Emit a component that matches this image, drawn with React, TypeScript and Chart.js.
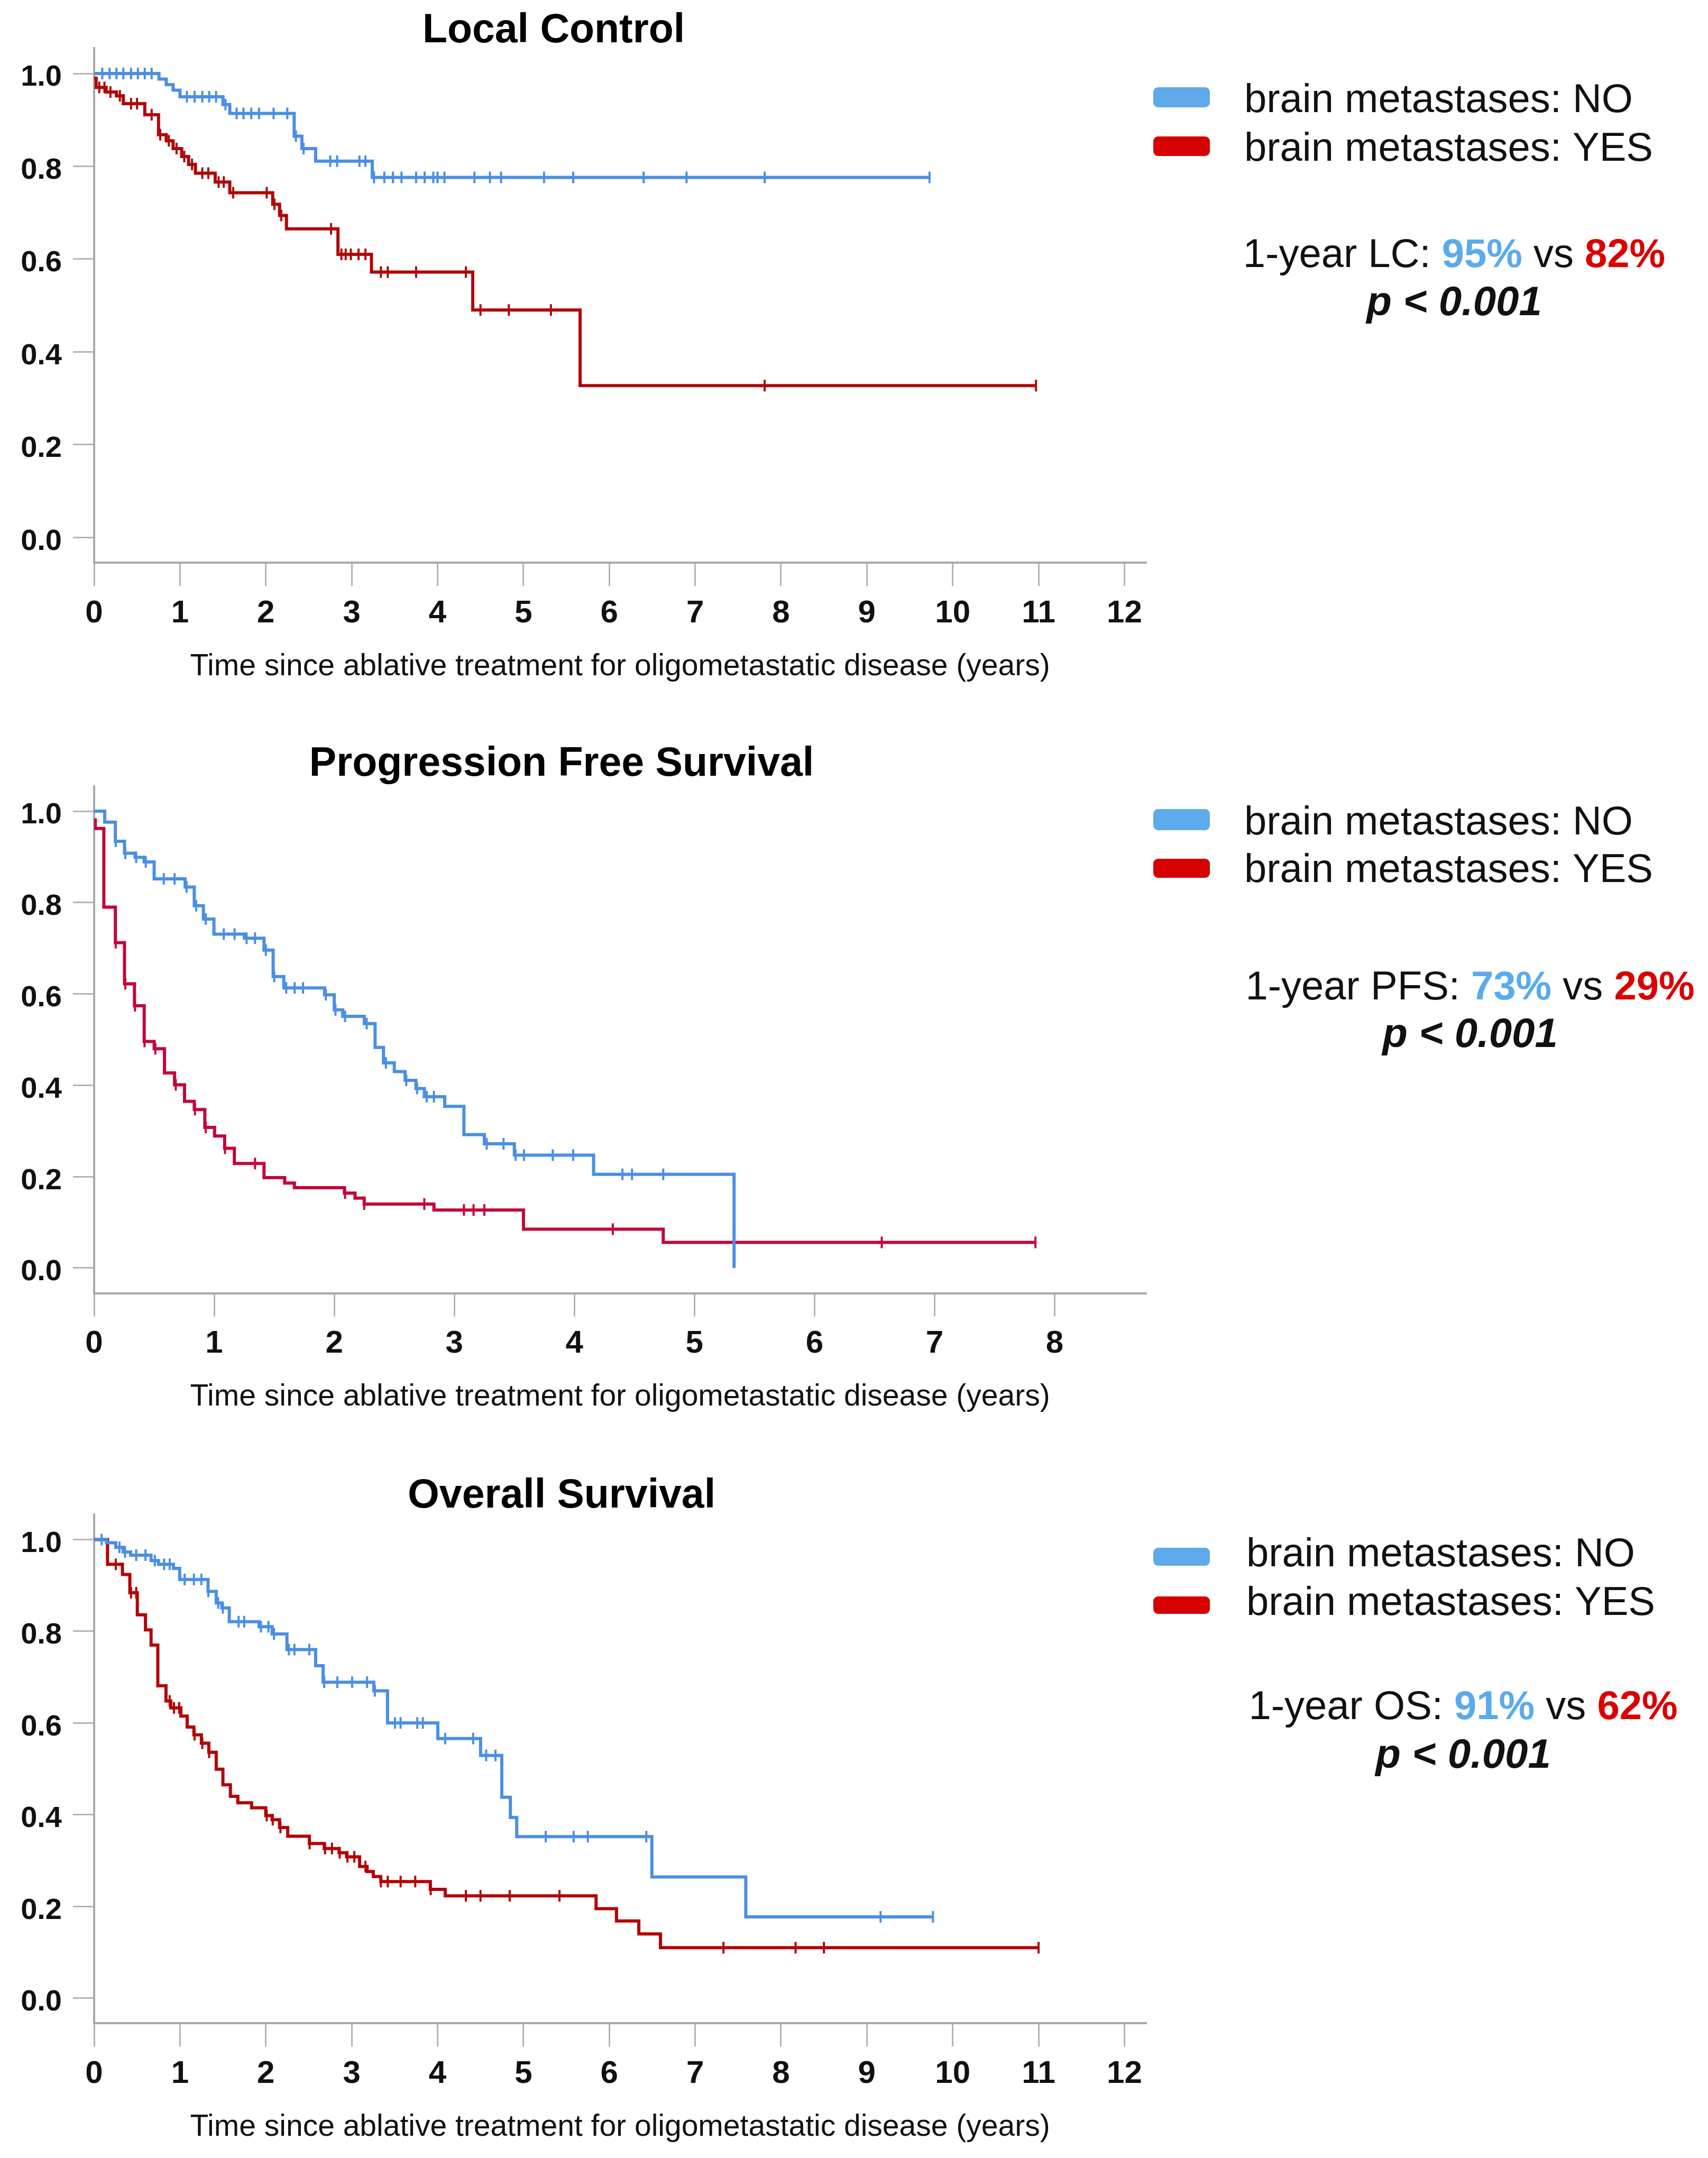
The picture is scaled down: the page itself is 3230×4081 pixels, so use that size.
import React, { useEffect, useRef } from 'react';
import { Chart, registerables } from 'chart.js';

Chart.register(...registerables);

// ---------------- DATA ----------------
const PANEL_TITLES = ['Local Control', 'Progression Free Survival', 'Overall Survival'];
const ENDPOINT_ABBR = ['LC', 'PFS', 'OS'];
const ONE_YEAR_NO = [95, 73, 91];
const ONE_YEAR_YES = [82, 29, 62];
const P_VALUE_TEXT = 'p < 0.001';
const SERIES_LABELS = ['brain metastases: NO', 'brain metastases: YES'];
const X_TITLE = 'Time since ablative treatment for oligometastatic disease (years)';

const Y_TICKS = [0, 0.2, 0.4, 0.6, 0.8, 1.0];
const X_TICKS_LC = [0, 1, 2, 3, 4, 5, 6, 7, 8, 9, 10, 11, 12];
const X_TICKS_PFS = [0, 1, 2, 3, 4, 5, 6, 7, 8];
const X_TICKS_OS = [0, 1, 2, 3, 4, 5, 6, 7, 8, 9, 10, 11, 12];

// Local control
const LC_NO_T = [0, 0.755, 0.84, 0.92, 1.0, 1.5, 1.58, 2.33, 2.42, 2.58, 3.24, 9.73];
const LC_NO_S = [1.0, 0.988, 0.976, 0.964, 0.95, 0.933, 0.914, 0.865, 0.838, 0.811, 0.776, 0.776];
const LC_NO_CENS = [0.095, 0.18, 0.26, 0.34, 0.43, 0.51, 0.59, 0.67, 1.08, 1.17, 1.26, 1.34, 1.42, 1.53, 1.66, 1.74, 1.83, 1.92, 2.09, 2.25, 2.35, 2.44, 2.75, 2.83, 3.09, 3.16, 3.26, 3.38, 3.48, 3.58, 3.75, 3.85, 3.95, 4.0, 4.08, 4.43, 4.61, 4.74, 5.24, 5.58, 6.4, 6.9, 7.81, 9.73];
const LC_YES_T = [0, 0.023, 0.14, 0.26, 0.34, 0.59, 0.75, 0.84, 0.92, 1.02, 1.1, 1.18, 1.41, 1.58, 2.08, 2.16, 2.24, 2.84, 3.23, 4.41, 5.66, 10.97];
const LC_YES_S = [0.99, 0.97, 0.96, 0.952, 0.935, 0.911, 0.868, 0.855, 0.838, 0.821, 0.804, 0.785, 0.766, 0.743, 0.718, 0.694, 0.665, 0.61, 0.572, 0.49, 0.327, 0.327];
const LC_YES_CENS = [0.06, 0.12, 0.19, 0.3, 0.43, 0.5, 0.67, 0.77, 0.87, 0.96, 1.05, 1.14, 1.26, 1.33, 1.45, 1.51, 1.62, 2.01, 2.1, 2.18, 2.76, 2.88, 2.93, 2.99, 3.08, 3.16, 3.34, 3.42, 3.75, 4.33, 4.5, 4.83, 5.32, 7.81, 10.97];

// Progression free survival
const PFS_NO_T = [0, 0.088, 0.177, 0.253, 0.341, 0.417, 0.5, 0.758, 0.834, 0.91, 0.998, 1.251, 1.415, 1.491, 1.58, 1.92, 2.0, 2.07, 2.25, 2.34, 2.41, 2.5, 2.59, 2.68, 2.75, 2.92, 3.08, 3.25, 3.5, 4.16, 5.33];
const PFS_NO_S = [1.0, 0.976, 0.934, 0.908, 0.899, 0.889, 0.852, 0.834, 0.793, 0.764, 0.731, 0.722, 0.696, 0.638, 0.613, 0.598, 0.565, 0.551, 0.535, 0.483, 0.449, 0.43, 0.411, 0.393, 0.375, 0.354, 0.292, 0.272, 0.247, 0.205, 0.0];
const PFS_NO_CENS = [0.18, 0.26, 0.35, 0.43, 0.58, 0.67, 0.77, 0.85, 0.93, 1.08, 1.17, 1.27, 1.34, 1.43, 1.5, 1.6, 1.67, 1.74, 1.93, 2.01, 2.09, 2.27, 2.43, 2.6, 2.69, 2.77, 2.83, 3.27, 3.41, 3.51, 3.58, 3.82, 3.99, 4.4, 4.48, 4.74];
const PFS_YES_T = [0, 0.01, 0.081, 0.177, 0.253, 0.336, 0.417, 0.5, 0.586, 0.67, 0.753, 0.834, 0.922, 1.003, 1.087, 1.168, 1.415, 1.587, 1.668, 2.085, 2.173, 2.249, 2.83, 3.576, 4.74, 7.84];
const PFS_YES_S = [0.981, 0.962, 0.79, 0.712, 0.622, 0.574, 0.496, 0.48, 0.427, 0.401, 0.365, 0.347, 0.308, 0.289, 0.262, 0.229, 0.198, 0.186, 0.176, 0.164, 0.153, 0.14, 0.127, 0.085, 0.056, 0.056];
const PFS_YES_CENS = [0.18, 0.26, 0.34, 0.42, 0.51, 0.68, 0.84, 0.93, 1.09, 1.34, 2.09, 2.25, 2.75, 3.08, 3.16, 3.25, 4.32, 6.56, 7.84];

// Overall survival
const OS_NO_T = [0, 0.143, 0.252, 0.338, 0.425, 0.663, 0.75, 0.924, 0.997, 1.327, 1.422, 1.487, 1.574, 1.921, 2.073, 2.246, 2.58, 2.667, 3.257, 3.417, 4.003, 4.501, 4.748, 4.848, 4.922, 6.496, 7.59, 9.77];
const OS_NO_S = [1.0, 0.993, 0.983, 0.973, 0.966, 0.954, 0.946, 0.937, 0.913, 0.887, 0.862, 0.851, 0.821, 0.81, 0.794, 0.76, 0.725, 0.689, 0.67, 0.6, 0.566, 0.529, 0.438, 0.394, 0.352, 0.264, 0.177, 0.177];
const OS_NO_CENS = [0.087, 0.295, 0.36, 0.49, 0.598, 0.707, 0.815, 0.88, 1.054, 1.162, 1.249, 1.33, 1.444, 1.5, 1.683, 1.748, 1.943, 2.03, 2.095, 2.268, 2.333, 2.506, 2.68, 2.832, 3.005, 3.179, 3.27, 3.504, 3.569, 3.764, 3.829, 4.089, 4.415, 4.566, 4.675, 5.26, 5.585, 5.75, 6.431, 9.16, 9.77];
const OS_YES_T = [0, 0.156, 0.33, 0.416, 0.503, 0.598, 0.663, 0.742, 0.837, 0.893, 1.01, 1.084, 1.162, 1.249, 1.336, 1.422, 1.5, 1.587, 1.674, 1.834, 1.999, 2.073, 2.16, 2.255, 2.507, 2.68, 2.853, 2.94, 3.092, 3.179, 3.252, 3.339, 3.916, 4.089, 5.846, 6.084, 6.344, 6.596, 11.0];
const OS_YES_S = [1.0, 0.946, 0.924, 0.884, 0.836, 0.803, 0.77, 0.681, 0.648, 0.633, 0.615, 0.591, 0.574, 0.556, 0.536, 0.499, 0.465, 0.44, 0.426, 0.415, 0.398, 0.389, 0.372, 0.353, 0.337, 0.326, 0.317, 0.308, 0.287, 0.276, 0.265, 0.254, 0.237, 0.223, 0.195, 0.168, 0.14, 0.11, 0.11];
const OS_YES_CENS = [0.252, 0.43, 0.49, 0.88, 0.93, 0.99, 1.17, 1.26, 1.34, 2.01, 2.08, 2.17, 2.51, 2.69, 2.77, 2.86, 2.95, 3.03, 3.16, 3.34, 3.42, 3.57, 3.74, 3.92, 4.33, 4.5, 4.84, 5.42, 7.33, 8.17, 8.5, 11.0];

// ---------------- STYLE / LAYOUT ----------------
const FONT = '"Liberation Sans", Arial, Helvetica, sans-serif';
const PAGE_W = 3230;
const PAGE_H = 4081;
const CHART_LEFT = 178;
const CHART_RIGHT = 2167;
const X_AXIS_H = 240;
const AXIS_COLOR = '#a9a9a9';
const TICK_COLOR = '#b4b4b4';
const LINE_BLUE = '#4a8fe4';
const LEGEND_BLUE = '#5eaaea';
const LEGEND_RED = '#d60000';
const TEXT_BLUE = '#5aabec';
const TEXT_RED = '#dc0000';

const PANELS = [
  {
    top: 0, height: 1360, chartTop: 90.8, chartBottom: 1064.3, xMax: 12.25, xTicks: X_TICKS_LC,
    noT: LC_NO_T, noS: LC_NO_S, noC: LC_NO_CENS, yesT: LC_YES_T, yesS: LC_YES_S, yesC: LC_YES_CENS,
    redLine: '#b00808',
    titleX: 1047, titleY: 80,
    sw: [[165, 38], [258, 37]], base: [212, 304], textX: 2353,
    annX: 2750, annY: [505, 596],
  },
  {
    top: 1360, height: 1380, chartTop: 126.5, chartBottom: 1085.5, xMax: 8.76, xTicks: X_TICKS_PFS,
    noT: PFS_NO_T, noS: PFS_NO_S, noC: PFS_NO_CENS, yesT: PFS_YES_T, yesS: PFS_YES_S, yesC: PFS_YES_CENS,
    redLine: '#c3063a',
    titleX: 1062, titleY: 107,
    sw: [[170, 40], [264, 36]], base: [218, 308], textX: 2353,
    annX: 2780, annY: [530, 620],
  },
  {
    top: 2740, height: 1341, chartTop: 123.8, chartBottom: 1086.2, xMax: 12.25, xTicks: X_TICKS_OS,
    noT: OS_NO_T, noS: OS_NO_S, noC: OS_NO_CENS, yesT: OS_YES_T, yesS: OS_YES_S, yesC: OS_YES_CENS,
    redLine: '#b40404',
    titleX: 1062, titleY: 111,
    sw: [[187, 34], [279, 33]], base: [222, 314], textX: 2357,
    annX: 2767, annY: [511, 603],
  },
];

function survAt(times: number[], values: number[], t: number): number {
  let v = values[0];
  for (let i = 0; i < times.length; i++) {
    if (times[i] <= t) v = values[i];
    else break;
  }
  return v;
}

function kmDataset(times: number[], values: number[], color: string, label: string) {
  return {
    label,
    data: times.map((t, i) => ({ x: t, y: values[i] })),
    showLine: true,
    stepped: 'before',
    borderColor: color,
    backgroundColor: color,
    borderWidth: 6,
    pointRadius: 0,
    pointHoverRadius: 0,
    fill: false,
  };
}

function censorDataset(times: number[], values: number[], cens: number[], color: string, label: string) {
  return {
    label,
    data: cens.map((t) => ({ x: t, y: survAt(times, values, t) })),
    showLine: false,
    pointStyle: 'line',
    rotation: 90,
    pointRadius: 11,
    pointHoverRadius: 11,
    borderColor: color,
    backgroundColor: color,
    borderWidth: 4,
  };
}

function makePlugin(idx: number) {
  const p = PANELS[idx];
  return {
    id: 'decor' + idx,
    afterDraw(chart: any) {
      const ctx = chart.ctx as CanvasRenderingContext2D;
      ctx.save();
      ctx.textBaseline = 'alphabetic';
      // Title
      ctx.fillStyle = '#000';
      ctx.font = `bold 77px ${FONT}`;
      ctx.textAlign = 'center';
      ctx.fillText(PANEL_TITLES[idx], p.titleX, p.titleY);
      // Legend
      const swColors = [LEGEND_BLUE, LEGEND_RED];
      for (let k = 0; k < 2; k++) {
        const [y, h] = p.sw[k];
        ctx.fillStyle = swColors[k];
        ctx.beginPath();
        if ((ctx as any).roundRect) (ctx as any).roundRect(2181, y, 107, h, 9);
        else ctx.rect(2181, y, 107, h);
        ctx.fill();
        ctx.fillStyle = '#111';
        ctx.font = `76px ${FONT}`;
        ctx.textAlign = 'left';
        ctx.fillText(SERIES_LABELS[k], p.textX, p.base[k]);
      }
      // Annotation line 1 (mixed runs)
      const runs = [
        { t: `1-year ${ENDPOINT_ABBR[idx]}: `, bold: false, c: '#111' },
        { t: `${ONE_YEAR_NO[idx]}%`, bold: true, c: TEXT_BLUE },
        { t: ' vs ', bold: false, c: '#111' },
        { t: `${ONE_YEAR_YES[idx]}%`, bold: true, c: TEXT_RED },
      ];
      let total = 0;
      const widths = runs.map((r) => {
        ctx.font = `${r.bold ? 'bold ' : ''}76px ${FONT}`;
        const w = ctx.measureText(r.t).width;
        total += w;
        return w;
      });
      let x = p.annX - total / 2;
      ctx.textAlign = 'left';
      runs.forEach((r, i) => {
        ctx.font = `${r.bold ? 'bold ' : ''}76px ${FONT}`;
        ctx.fillStyle = r.c;
        ctx.fillText(r.t, x, p.annY[0]);
        x += widths[i];
      });
      // p-value line
      ctx.font = `italic bold 78px ${FONT}`;
      ctx.fillStyle = '#111';
      ctx.textAlign = 'center';
      ctx.fillText(P_VALUE_TEXT, p.annX, p.annY[1]);
      ctx.restore();
    },
  };
}

function buildChart(canvas: HTMLCanvasElement, idx: number) {
  const p = PANELS[idx];
  const config: any = {
    type: 'scatter',
    data: {
      datasets: [
        kmDataset(p.noT, p.noS, LINE_BLUE, SERIES_LABELS[0]),
        censorDataset(p.noT, p.noS, p.noC, LINE_BLUE, SERIES_LABELS[0] + ' censored'),
        kmDataset(p.yesT, p.yesS, p.redLine, SERIES_LABELS[1]),
        censorDataset(p.yesT, p.yesS, p.yesC, p.redLine, SERIES_LABELS[1] + ' censored'),
      ],
    },
    options: {
      responsive: false,
      animation: false,
      devicePixelRatio: 1,
      layout: {
        padding: {
          left: 0,
          top: p.chartTop,
          right: PAGE_W - CHART_RIGHT,
          bottom: p.height - p.chartBottom - X_AXIS_H,
        },
      },
      plugins: {
        legend: { display: false },
        tooltip: { enabled: false },
        title: { display: false },
      },
      scales: {
        x: {
          type: 'linear',
          min: 0,
          max: p.xMax,
          afterBuildTicks: (ax: any) => {
            ax.ticks = p.xTicks.map((v: number) => ({ value: v }));
          },
          afterFit: (ax: any) => {
            ax.height = X_AXIS_H;
          },
          ticks: {
            autoSkip: false,
            maxRotation: 0,
            padding: 16,
            color: '#111',
            font: { family: FONT, size: 60, weight: 'bold' },
            callback: (v: any) => String(v),
          },
          grid: {
            drawOnChartArea: false,
            drawTicks: true,
            tickLength: 44,
            color: TICK_COLOR,
            lineWidth: 3,
          },
          border: { display: true, color: AXIS_COLOR, width: 4 },
          title: {
            display: true,
            text: X_TITLE,
            color: '#111',
            font: { family: FONT, size: 57, weight: 'normal' },
            padding: { top: 0, bottom: 9 },
          },
        },
        y: {
          type: 'linear',
          min: -0.055,
          max: 1.055,
          afterBuildTicks: (ax: any) => {
            ax.ticks = Y_TICKS.map((v) => ({ value: v }));
          },
          afterFit: (ax: any) => {
            ax.width = CHART_LEFT;
          },
          ticks: {
            padding: 21,
            labelOffset: 8,
            color: '#111',
            font: { family: FONT, size: 56, weight: 'bold' },
            callback: (v: any) => Number(v).toFixed(1),
          },
          grid: {
            drawOnChartArea: false,
            drawTicks: true,
            tickLength: 40,
            color: TICK_COLOR,
            lineWidth: 3,
          },
          border: { display: true, color: AXIS_COLOR, width: 4 },
        },
      },
    },
    plugins: [makePlugin(idx)],
  };
  return new Chart(canvas, config);
}

function Panel({ idx }: { idx: number }) {
  const ref = useRef<HTMLCanvasElement | null>(null);
  const p = PANELS[idx];
  useEffect(() => {
    if (!ref.current) return;
    const chart = buildChart(ref.current, idx);
    return () => chart.destroy();
  }, [idx]);
  return (
    <canvas
      ref={ref}
      width={PAGE_W}
      height={p.height}
      style={{ position: 'absolute', left: 0, top: p.top, width: PAGE_W, height: p.height, display: 'block' }}
    />
  );
}

export default function App() {
  useEffect(() => {
    document.body.style.margin = '0';
    document.body.style.overflow = 'hidden';
    document.body.style.background = '#fff';
  }, []);
  return (
    <div style={{ position: 'relative', width: PAGE_W, height: PAGE_H, background: '#fff', overflow: 'hidden' }}>
      {PANELS.map((_, i) => (
        <Panel key={i} idx={i} />
      ))}
    </div>
  );
}
